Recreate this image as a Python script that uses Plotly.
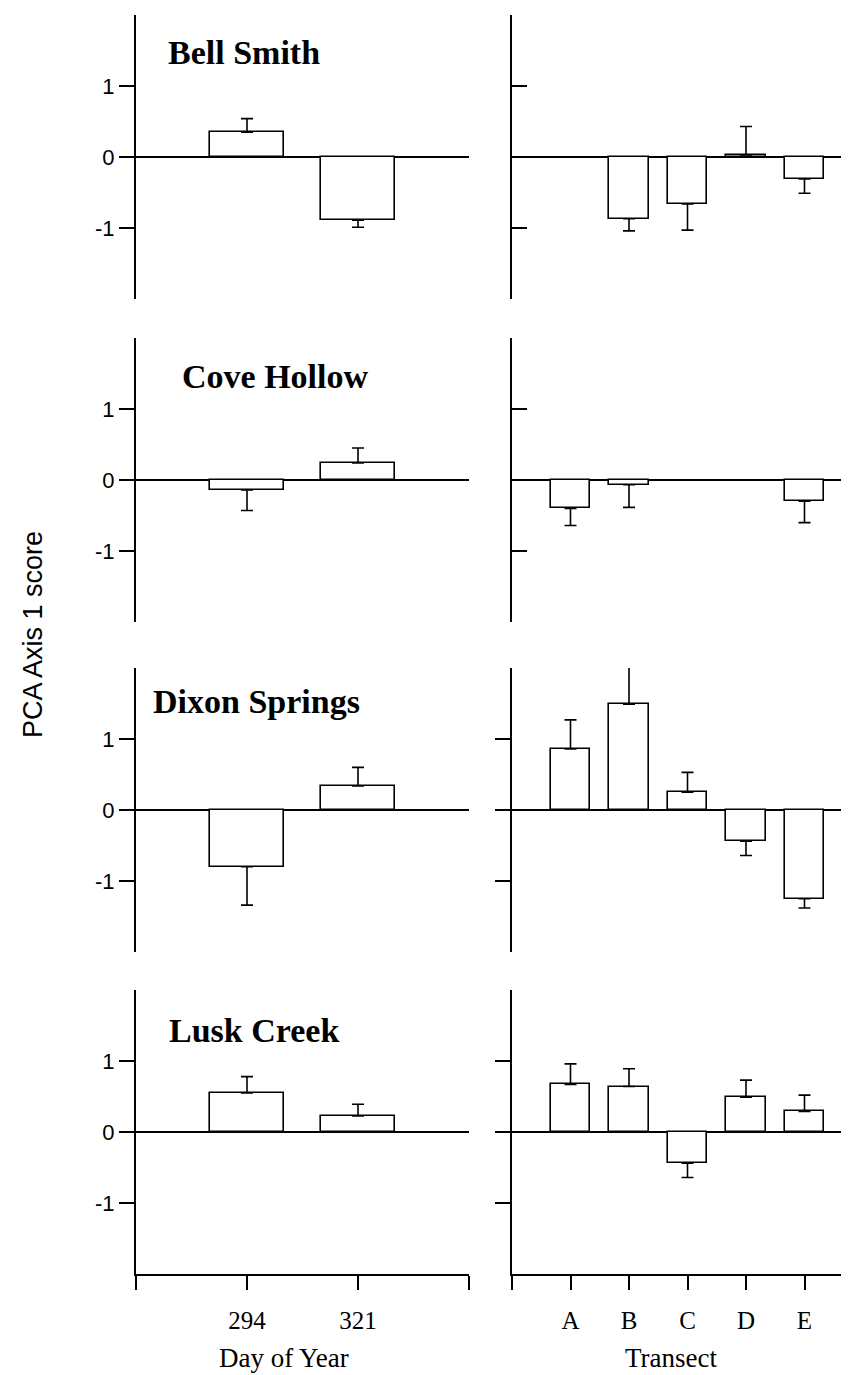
import plotly.graph_objects as go
from plotly.subplots import make_subplots

# ---------------- data ----------------
sites = ["Bell Smith", "Cove Hollow", "Dixon Springs", "Lusk Creek"]
days = ["294", "321"]
transects = ["A", "B", "C", "D", "E"]

bell_day = [0.35, -0.89]
bell_day_se = [0.19, 0.10]
cove_day = [-0.14, 0.24]
cove_day_se = [0.29, 0.21]
dixon_day = [-0.80, 0.34]
dixon_day_se = [0.54, 0.26]
lusk_day = [0.55, 0.225]
lusk_day_se = [0.23, 0.165]

bell_tr = [None, -0.87, -0.66, 0.03, -0.31]
bell_tr_se = [None, 0.17, 0.37, 0.40, 0.20]
cove_tr = [-0.40, -0.066, None, None, -0.30]
cove_tr_se = [0.24, 0.32, None, None, 0.30]
dixon_tr = [0.86, 1.49, 0.25, -0.44, -1.25]
dixon_tr_se = [0.41, 0.60, 0.28, 0.20, 0.13]
lusk_tr = [0.67, 0.64, -0.44, 0.49, 0.29]
lusk_tr_se = [0.29, 0.25, 0.20, 0.24, 0.23]

day_vals = [bell_day, cove_day, dixon_day, lusk_day]
day_ses = [bell_day_se, cove_day_se, dixon_day_se, lusk_day_se]
tr_vals = [bell_tr, cove_tr, dixon_tr, lusk_tr]
tr_ses = [bell_tr_se, cove_tr_se, dixon_tr_se, lusk_tr_se]

# ---------------- layout geometry (pixels) ----------------
W, H = 849, 1375
row_tops = [7, 330, 660, 982]
panel_h = 284
left_x0, left_x1 = 128, 461
right_x0, right_unit = 504, 58.5

SERIF = "Times New Roman, Liberation Serif, serif"
SANS = "Arial, Liberation Sans, sans-serif"

fig = make_subplots(rows=4, cols=2)


def one_sided(vals, ses):
    up, dn = [], []
    for v, e in zip(vals, ses):
        if v is None or e is None:
            up.append(0); dn.append(0)
        elif v >= 0:
            up.append(e); dn.append(0)
        else:
            up.append(0); dn.append(e)
    return up, dn


for r in range(4):
    for c, (vals, ses, cats) in enumerate([(day_vals[r], day_ses[r], days),
                                          (tr_vals[r], tr_ses[r], transects)]):
        up, dn = one_sided(vals, ses)
        fig.add_trace(go.Bar(
            x=list(range(1, len(cats) + 1)), y=vals, width=0.667,
            marker=dict(color="white", line=dict(color="black", width=1.6)),
            error_y=dict(type="data", symmetric=False, array=up, arrayminus=dn,
                         color="black", thickness=1.6, width=6),
            showlegend=False, hoverinfo="skip"),
            row=r + 1, col=c + 1)

for r in range(4):
    top, bot = row_tops[r], row_tops[r] + panel_h
    ydom = [1 - bot / H, 1 - top / H]
    for c in range(2):
        idx = r * 2 + c + 1
        xa = "xaxis" if idx == 1 else f"xaxis{idx}"
        ya = "yaxis" if idx == 1 else f"yaxis{idx}"
        last = (r == 3)
        if c == 0:
            xdom = [left_x0 / W, left_x1 / W]
            xrange = [0, 3]
            tickvals = [0, 1, 2, 3]
            ticktext = [""] + days + [""]
        else:
            xdom = [right_x0 / W, 1.0]
            xrange = [0, (W - right_x0) / right_unit]
            tickvals = list(range(0, 6))
            ticktext = [""] + transects
        fig.layout[xa].update(
            domain=xdom, range=xrange, showgrid=False, zeroline=False,
            showline=last, linecolor="black", linewidth=2,
            ticks="outside" if last else "", ticklen=14, tickwidth=1.6, tickcolor="black",
            tickvals=tickvals if last else [], ticktext=ticktext if last else [],
            showticklabels=last, tickfont=dict(family=SERIF, size=25, color="black"),
            ticklabelstandoff=9,
        )
        if c == 0:
            yt = "outside"
        else:
            yt = "inside" if r < 2 else "outside"
        fig.layout[ya].update(
            domain=ydom, range=[-2, 2], showgrid=False,
            zeroline=True, zerolinecolor="black", zerolinewidth=2,
            showline=True, linecolor="black", linewidth=2,
            ticks=yt, ticklen=15, tickwidth=1.6, tickcolor="black",
            tickvals=[-1, 0, 1], ticktext=["-1", "0", "1"],
            showticklabels=(c == 0), tickfont=dict(family=SANS, size=22, color="black"),
        )

# site labels
site_pos = [(158, 44), (172, 368), (143, 693), (159, 1022)]
for name, (px, py) in zip(sites, site_pos):
    fig.add_annotation(text=f"<b>{name}</b>", xref="paper", yref="paper",
                       x=px / W, y=1 - py / H, xanchor="left", yanchor="middle",
                       showarrow=False, font=dict(family=SERIF, size=34, color="black"))

# axis titles
fig.add_annotation(text="Day of Year", xref="paper", yref="paper",
                   x=276 / W, y=1 - 1350 / H, xanchor="center", yanchor="middle",
                   showarrow=False, font=dict(family=SERIF, size=27, color="black"))
fig.add_annotation(text="Transect", xref="paper", yref="paper",
                   x=663 / W, y=1 - 1350 / H, xanchor="center", yanchor="middle",
                   showarrow=False, font=dict(family=SERIF, size=27, color="black"))
fig.add_annotation(text="PCA Axis 1 score", xref="paper", yref="paper",
                   x=25 / W, y=1 - 627 / H, xanchor="center", yanchor="middle",
                   textangle=-90, showarrow=False,
                   font=dict(family=SANS, size=27, color="black"))

fig.update_layout(width=W, height=H, margin=dict(l=0, r=0, t=0, b=0),
                  paper_bgcolor="white", plot_bgcolor="white", bargap=0)

fig.write_html("out.html")
